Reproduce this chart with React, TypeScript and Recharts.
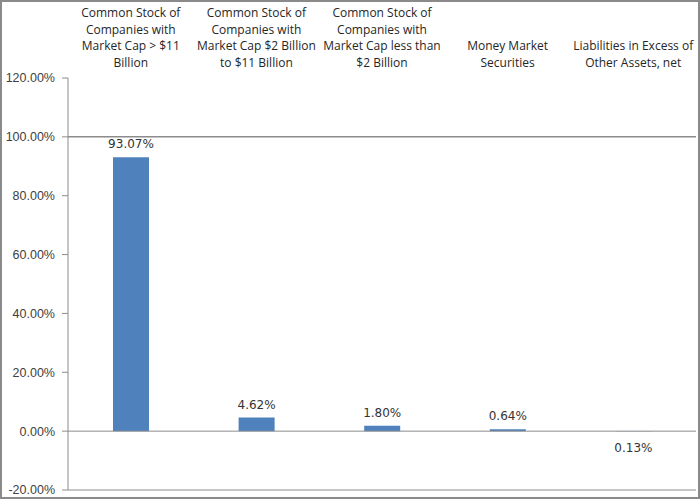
import React from "react";
import {
  BarChart,
  Bar,
  XAxis,
  YAxis,
  ReferenceLine,
  LabelList
} from "recharts";

const categories: string[][] = [
  ["Common Stock of", "Companies with", "Market Cap > $11", "Billion"],
  ["Common Stock of", "Companies with", "Market Cap $2 Billion", "to $11 Billion"],
  ["Common Stock of", "Companies with", "Market Cap less than", "$2 Billion"],
  ["Money Market", "Securities"],
  ["Liabilities in Excess of", "Other Assets, net"]
];

const weights: number[] = [0.9307, 0.0462, 0.018, 0.0064, -0.0013];

const yTicks: number[] = [-0.2, 0, 0.2, 0.4, 0.6, 0.8, 1.0, 1.2];

interface IRow {
  name: string
  value: number
}

const data: IRow[] = categories.map((c, i) => ({ name: c.join(" "), value: weights[i] }));

const pct = (v: number) => (v * 100).toFixed(2) + "%";

const CategoryTick = (props: any) => {
  const { x, y, index } = props;
  const lines = categories[index] || [];
  return (
    <g>
      {lines.map((l, i) => (
        <text
          key={i}
          x={x}
          y={y - 3 - (lines.length - 1 - i) * 16.7}
          textAnchor="middle"
          fontSize={12}
          fontFamily="Open Sans, sans-serif"
          fill="#262626"
        >
          {l}
        </text>
      ))}
    </g>
  );
};

const ValueLabel = (props: any) => {
  const { x, y, width, height, value } = props;
  const neg = value < 0;
  const ty = neg ? y + Math.max(height, 0) + 20 : y - 9;
  return (
    <text
      x={x + width / 2}
      y={ty}
      textAnchor="middle"
      fontSize={12}
      fontFamily="DejaVu Sans, sans-serif"
      fill="#333"
    >
      {pct(Math.abs(value))}
    </text>
  );
};

const App = () => {
  return (
    <div
      style={{
        position: "absolute",
        left: 0,
        top: 0,
        width: 700,
        height: 499,
        border: "2px solid #8a8a8a",
        boxSizing: "border-box",
        background: "#fff"
      }}
    >
      <BarChart
        width={696}
        height={495}
        data={data}
        margin={{ top: 0, right: 2, bottom: 7, left: 0 }}
        barCategoryGap={0}
      >
        <XAxis
          dataKey="name"
          orientation="top"
          height={76}
          axisLine={false}
          tickLine={false}
          interval={0}
          tick={<CategoryTick />}
        />
        <YAxis
          width={66}
          domain={[-0.2, 1.2]}
          ticks={yTicks}
          interval={0}
          tickFormatter={pct}
          tickSize={6}
          tickMargin={7}
          axisLine={{ stroke: "#8c8c8c" }}
          tickLine={{ stroke: "#8c8c8c" }}
          tick={{ fontSize: 12.5, fill: "#404040", fontFamily: "Liberation Sans, sans-serif" }}
        />
        <ReferenceLine y={1} stroke="#8c8c8c" strokeWidth={1.5} />
        <ReferenceLine y={0} stroke="#8c8c8c" />
        <ReferenceLine y={-0.2} stroke="#8c8c8c" />
        <Bar dataKey="value" fill="#4F81BD" barSize={36} isAnimationActive={false}>
          <LabelList dataKey="value" content={<ValueLabel />} />
        </Bar>
      </BarChart>
    </div>
  );
};

export default App;
